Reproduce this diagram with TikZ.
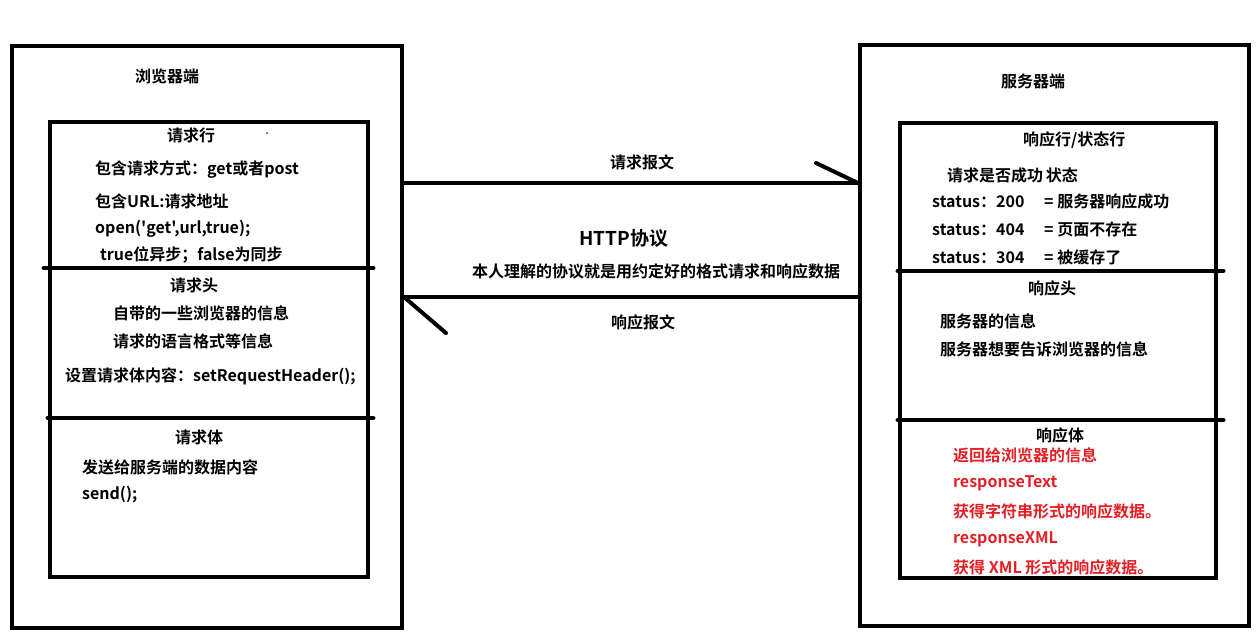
\documentclass[tikz,border=0pt]{standalone}
\usepackage{fontspec}
\newfontfamily\cnfont{Noto Sans CJK SC}[BoldFont=* Bold]
\usetikzlibrary{calc}
\definecolor{rtxt}{RGB}{228,32,38}
\tikzset{
  outerbox/.style={draw, line width=4pt, inner sep=0pt},
  innerbox/.style={draw, line width=4.5pt, inner sep=0pt},
  divider/.style={line width=4.5pt, line cap=round},
  conn/.style={line width=4pt},
  headline/.style={line width=4pt, line cap=round},
  txt/.style={anchor=west, inner sep=0pt, font=\cnfont\bfseries\fontsize{16pt}{19pt}\selectfont},
  redtxt/.style={txt, text=rtxt},
  bigtxt/.style={anchor=west, inner sep=0pt, font=\cnfont\bfseries\fontsize{19pt}{22pt}\selectfont}
}
\begin{document}
\begin{tikzpicture}[x=1pt,y=-1pt]
\useasboundingbox (0,0) rectangle (1260,641);
% boxes
\node[outerbox, minimum width=390pt, minimum height=582pt] (browser) at (207,337) {};
\node[innerbox, minimum width=318pt, minimum height=455pt] (reqbox) at (209,349.5) {};
\node[outerbox, minimum width=389pt, minimum height=581pt] (server) at (1054.5,335.5) {};
\node[innerbox, minimum width=316pt, minimum height=455pt] (resbox) at (1058,350.5) {};
% dividers
\coordinate (ld1a) at ($(reqbox.west |- 0,268)+(-4,0)$);
\coordinate (ld1b) at ($(reqbox.east |- 0,268)+(3,0)$);
\coordinate (ld2a) at (reqbox.west |- 0,418);
\coordinate (ld2b) at ($(reqbox.east |- 0,418)+(3,0)$);
\coordinate (rd1a) at (resbox.west |- 0,271);
\coordinate (rd1b) at ($(resbox.east |- 0,271)+(5,0)$);
\coordinate (rd2a) at (resbox.west |- 0,420);
\coordinate (rd2b) at ($(resbox.east |- 0,420)+(5,0)$);
\draw[divider] (ld1a) -- (ld1b);
\draw[divider] (ld2a) -- (ld2b);
\draw[divider] (rd1a) -- (rd1b);
\draw[divider] (rd2a) -- (rd2b);
% connectors
\coordinate (reqS) at (browser.east |- 0,183);
\coordinate (reqE) at (server.west |- 0,183);
\coordinate (resS) at (server.west |- 0,297);
\coordinate (resE) at (browser.east |- 0,297);
\draw[conn] (reqS) -- (reqE);
\draw[headline] (reqE) -- ++(-42,-20);
\draw[conn] (resS) -- (resE);
\draw[headline] (resE) -- ++(42,36);
% speck
\fill (267,133) circle (0.9pt);
% left texts
\node[txt] (t1) at (135,76) {浏览器端};
\node[txt] (t2) at (167,135) {请求行};
\node[txt] (t3) at (95,170) {包含请求方式：get或者post};
\node[txt] (t4) at (95,201) {包含URL:请求地址};
\node[txt] (t5) at (95,229) {open('get',url,true);};
\node[txt] (t6) at (100,255) {true位异步；false为同步};
\node[txt] (t7) at (170,285) {请求头};
\node[txt] (t8) at (113,313) {自带的一些浏览器的信息};
\node[txt] (t9) at (113,341) {请求的语言格式等信息};
\node[txt] (t10) at (65,376) {设置请求体内容：setRequestHeader();};
\node[txt] (t11) at (175,437) {请求体};
\node[txt] (t12) at (82,467) {发送给服务端的数据内容};
\node[txt] (t13) at (82,495) {send();};
% middle texts
\node[txt] (m1) at (610,162) {请求报文};
\node[bigtxt] (m2) at (579,238) {HTTP协议};
\node[txt] (m3) at (472,271) {本人理解的协议就是用约定好的格式请求和响应数据};
\node[txt] (m4) at (611,322) {响应报文};
% right texts
\node[txt] (r1) at (1001,81) {服务器端};
\node[txt] (r2) at (1023,140) {响应行/状态行};
\node[txt] (r3) at (947,175) {请求是否成功\,状态};
\node[txt] (r4) at (932,201) {\makebox[112pt][l]{status：200}= 服务器响应成功};
\node[txt] (r5) at (932,229) {\makebox[112pt][l]{status：404}= 页面不存在};
\node[txt] (r6) at (932,257) {\makebox[112pt][l]{status：304}= 被缓存了};
\node[txt] (r7) at (1028,288) {响应头};
\node[txt] (r8) at (940,321) {服务器的信息};
\node[txt] (r9) at (940,349) {服务器想要告诉浏览器的信息};
\node[txt] (r10) at (1036,435) {响应体};
\node[redtxt] (r11) at (953,455) {返回给浏览器的信息};
\node[redtxt] (r12) at (953,483) {responseText};
\node[redtxt] (r13) at (953,511) {获得字符串形式的响应数据。};
\node[redtxt] (r14) at (953,539) {responseXML};
\node[redtxt] (r15) at (953,567) {获得 XML 形式的响应数据。};
\end{tikzpicture}
\end{document}
